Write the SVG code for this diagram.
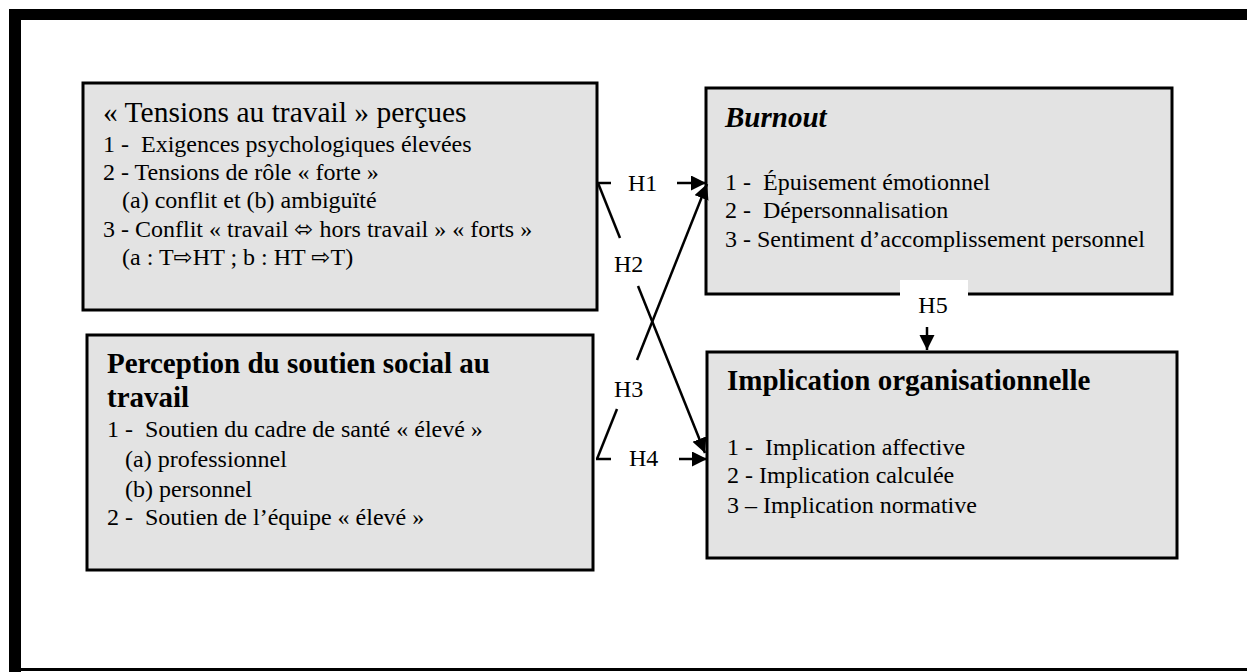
<svg xmlns="http://www.w3.org/2000/svg" width="1247" height="672" viewBox="0 0 1247 672">
<style>
.box{fill:#e3e3e3;stroke:#000;stroke-width:3}
.t{font-family:"Liberation Serif","Times New Roman",Tinos,"DejaVu Serif",serif;font-size:24px;font-weight:normal;fill:#000}
.ti{font-family:"Liberation Serif","Times New Roman",Tinos,"DejaVu Serif",serif;font-size:29px;fill:#000}
.tt{font-size:29.5px}
.b{font-weight:bold}
.sym{font-family:"DejaVu Sans",sans-serif;font-size:23px}
.c{fill:none;stroke:#000;stroke-width:2.5}
</style>
<defs>
<marker id="ah" markerUnits="userSpaceOnUse" markerWidth="16" markerHeight="16" refX="15" refY="7.5" orient="auto">
<path d="M0,0 L15,7.5 L0,15 z" fill="#000"/>
</marker>
</defs>
<rect width="1247" height="672" fill="#fff"/>
<g id="frame">
<rect x="9" y="9" width="1238" height="11" fill="#000"/>
<rect x="9" y="9" width="12" height="663" fill="#000"/>
<rect x="9" y="668" width="1238" height="3" fill="#000"/>
</g>
<g id="tensions">
<rect class="box" x="83" y="83" width="514" height="227"/>
<text class="ti tt" x="103" y="122">« Tensions au travail » perçues</text>
<text class="t" x="103" y="152" xml:space="preserve">1 -  Exigences psychologiques élevées</text>
<text class="t" x="103" y="180">2 - Tensions de rôle « forte »</text>
<text class="t" x="122" y="208">(a) conflit et (b) ambiguïté</text>
<text class="t" x="103" y="237">3 - Conflit « travail <tspan class="sym">⬄</tspan> hors travail » « forts »</text>
<text class="t" x="122" y="265">(a : T<tspan class="sym">⇨</tspan>HT ; b : HT <tspan class="sym">⇨</tspan>T)</text>
</g>
<g id="soutien">
<rect class="box" x="87" y="335" width="506" height="235"/>
<text class="ti b" x="107" y="373">Perception du soutien social au</text>
<text class="ti b" x="107" y="407">travail</text>
<text class="t" x="107" y="437" xml:space="preserve">1 -  Soutien du cadre de santé « élevé »</text>
<text class="t" x="125" y="467">(a) professionnel</text>
<text class="t" x="125" y="497">(b) personnel</text>
<text class="t" x="107" y="525" xml:space="preserve">2 -  Soutien de l’équipe « élevé »</text>
</g>
<g id="burnout">
<rect class="box" x="706" y="88" width="466" height="206"/>
<text class="ti b" x="725" y="127" font-style="italic">Burnout</text>
<text class="t" x="725" y="190" xml:space="preserve">1 -  Épuisement émotionnel</text>
<text class="t" x="725" y="218" xml:space="preserve">2 -  Dépersonnalisation</text>
<text class="t" x="725" y="247">3 - Sentiment d’accomplissement personnel</text>
</g>
<g id="implication">
<rect class="box" x="707" y="352" width="470" height="206"/>
<text class="ti b" x="727" y="390">Implication organisationnelle</text>
<text class="t" x="727" y="455" xml:space="preserve">1 -  Implication affective</text>
<text class="t" x="727" y="483">2 - Implication calculée</text>
<text class="t" x="727" y="513">3 – Implication normative</text>
</g>
<g id="connectors">
<line class="c" x1="597" y1="183" x2="611" y2="183"/>
<line class="c" x1="677" y1="183" x2="706" y2="183" marker-end="url(#ah)"/>
<text class="t" x="628" y="191">H1</text>
<line class="c" x1="598" y1="183" x2="620" y2="238"/>
<line class="c" x1="638" y1="286" x2="705" y2="453" marker-end="url(#ah)"/>
<text class="t" x="614" y="272">H2</text>
<line class="c" x1="597" y1="459" x2="617" y2="409"/>
<line class="c" x1="637" y1="360" x2="707" y2="184" marker-end="url(#ah)"/>
<text class="t" x="614" y="397">H3</text>
<line class="c" x1="596" y1="459" x2="611" y2="459"/>
<line class="c" x1="679" y1="459" x2="707" y2="459" marker-end="url(#ah)"/>
<text class="t" x="629" y="466">H4</text>
<rect x="900" y="280" width="68" height="18" fill="#fff"/>
<text class="t" x="933" y="313" text-anchor="middle">H5</text>
<line class="c" x1="927" y1="327" x2="927" y2="350" marker-end="url(#ah)"/>
</g>
</svg>
